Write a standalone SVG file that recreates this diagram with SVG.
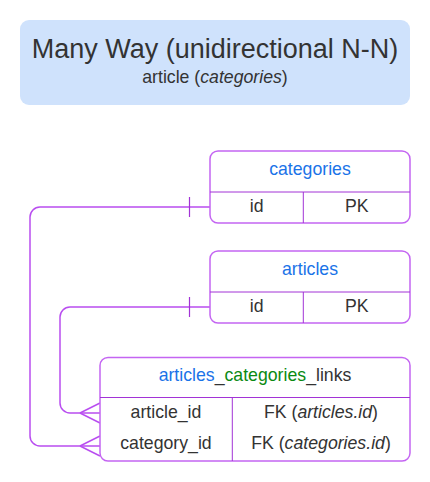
<svg xmlns="http://www.w3.org/2000/svg" width="430" height="482" viewBox="0 0 430 482">
<style>
text{font-family:"Liberation Sans",Arial,sans-serif;fill:#333333;}
.t{font-size:27px;}
.s{font-size:17.7px;}
.b{font-size:17.7px;}
.blue{fill:#1a73e8;}
.green{fill:#0a8a12;}
.i{font-style:italic;}
.box{fill:#ffffff;stroke:#c465f2;stroke-width:1.5;}
.in{stroke:#a233d6;stroke-width:1;fill:none;}
.con{stroke:#b94ef0;stroke-width:1.5;fill:none;}
.tick{stroke:#a233d6;stroke-width:1.2;fill:none;}
</style>
<rect width="430" height="482" fill="#ffffff"/>
<g id="title">
<rect x="20" y="20" width="390" height="85" rx="9" fill="#cfe2fc"/>
<text class="t" x="215" y="57.5" text-anchor="middle">Many Way (unidirectional N-N)</text>
<text class="s" x="215" y="83.3" text-anchor="middle">article (<tspan class="i">categories</tspan>)</text>
</g>
<g id="connectors">
<path class="con" d="M210,207 H40 A10,10 0 0 0 30,217 V436 A10,10 0 0 0 40,446 H100"/>
<path class="con" d="M80,446 L100,436 M80,446 L100,456"/>
<path class="tick" d="M189.5,197 V217"/>
<path class="con" d="M210,307 H70 A10,10 0 0 0 60,317 V403 A10,10 0 0 0 70,413 H100"/>
<path class="con" d="M80,413 L100,403 M80,413 L100,423"/>
<path class="tick" d="M189.5,297 V317"/>
</g>
<g id="categories">
<rect class="box" x="210" y="151" width="200" height="72" rx="8"/>
<path class="in" d="M210,192 H410 M303.3,192 V223"/>
<text class="b blue" x="310" y="174.5" text-anchor="middle">categories</text>
<text class="b" x="256.7" y="211.5" text-anchor="middle">id</text>
<text class="b" x="356.7" y="211.5" text-anchor="middle">PK</text>
</g>
<g id="articles">
<rect class="box" x="210" y="251" width="200" height="72" rx="8"/>
<path class="in" d="M210,292 H410 M303.3,292 V323"/>
<text class="b blue" x="310" y="274.5" text-anchor="middle">articles</text>
<text class="b" x="256.7" y="311.5" text-anchor="middle">id</text>
<text class="b" x="356.7" y="311.5" text-anchor="middle">PK</text>
</g>
<g id="articles_categories_links">
<rect class="box" x="100" y="357.5" width="310" height="103.5" rx="8"/>
<path class="in" d="M100,397.5 H410 M232.3,397.5 V461"/>
<text class="b" x="255" y="381" text-anchor="middle"><tspan class="blue">articles</tspan>_<tspan class="green">categories</tspan>_links</text>
<text class="b" x="166" y="417.7" text-anchor="middle">article_id</text>
<text class="b" x="321" y="417.7" text-anchor="middle">FK (<tspan class="i">articles.id</tspan>)</text>
<text class="b" x="166" y="448.5" text-anchor="middle">category_id</text>
<text class="b" x="321" y="448.5" text-anchor="middle">FK (<tspan class="i">categories.id</tspan>)</text>
</g>
</svg>
